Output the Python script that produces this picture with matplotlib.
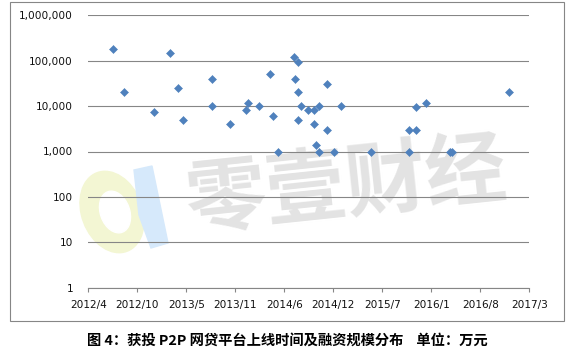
import matplotlib
matplotlib.use("Agg")
import matplotlib.pyplot as plt
import matplotlib.dates as mdates
import matplotlib.patches as mpatches
from matplotlib.ticker import FuncFormatter
import pandas as pd

# launch date of each platform and its financing (10k CNY)
launch_dates = [
    "2012-07-12", "2012-08-26", "2012-12-26", "2013-02-28", "2013-04-01",
    "2013-04-23", "2013-08-19", "2013-08-19", "2013-10-31", "2014-01-06",
    "2014-01-14", "2014-02-28", "2014-04-11", "2014-04-26", "2014-05-17",
    "2014-07-21", "2014-08-03", "2014-07-25", "2014-08-06", "2014-08-06",
    "2014-08-19", "2014-09-16", "2014-10-11", "2014-10-31", "2014-10-11",
    "2014-10-19", "2014-10-31", "2014-12-03", "2014-12-03", "2014-12-31",
    "2015-01-28", "2015-05-31", "2015-11-02", "2015-11-02", "2015-12-01",
    "2015-12-01", "2016-01-11", "2016-04-18", "2016-04-26", "2016-12-15",
]
funding = [
    180000, 20000, 7500, 150000, 25000,
    5000, 40000, 10000, 4000, 8000,
    12000, 10000, 50000, 6000, 1000,
    120000, 95000, 40000, 20000, 5000,
    10000, 8000, 8000, 10000, 4000,
    1400, 1000, 30000, 3000, 1000,
    10000, 1000, 1000, 3000, 3000,
    9500, 12000, 1000, 1000, 20000,
]

x_labels = ["2012/4", "2012/10", "2013/5", "2013/11", "2014/6",
            "2014/12", "2015/7", "2016/1", "2016/8", "2017/3"]
y_ticks = [1, 10, 100, 1000, 10000, 100000, 1000000]

caption = "图 4：获投 P2P 网贷平台上线时间及融资规模分布    单位：万元"
watermark = "零壹财经"

W, H = 570, 356
cjk = ["Noto Sans CJK SC", "DejaVu Sans"]


def px(x, y):
    return x / W, 1 - y / H


fig = plt.figure(figsize=(W / 100, H / 100), dpi=100)
ax = fig.add_axes([88.3 / W, 1 - 287.7 / H, 441 / W, 272.4 / H])
ax.patch.set_alpha(0)

# watermark and logo behind the plot
fig.text(*px(346, 188), watermark, fontsize=58, fontweight="bold", family=cjk,
         color="#e3e3e3", ha="center", va="center", rotation=6, zorder=-2)
fig.patches.append(mpatches.Ellipse(px(112, 212), 62 / W, 82 / H, angle=8,
                                    color="#f3f6d3", transform=fig.transFigure, zorder=-3))
fig.patches.append(mpatches.Ellipse(px(115, 212), 30 / W, 42 / H, angle=8,
                                    color="white", transform=fig.transFigure, zorder=-3))
fig.patches.append(mpatches.Polygon(
    [px(134, 170), px(152, 166), px(168, 243), px(151, 248), px(139, 215)],
    closed=True, color="#d6e9fb", transform=fig.transFigure, zorder=-3))

x = mdates.date2num(pd.to_datetime(launch_dates))
ax.plot(x, funding, linestyle="none", marker="D", ms=4.3,
        color="#4f81bd", mec="#4f81bd", mew=0.4, zorder=3)

ax.set_yscale("log")
ax.set_ylim(1, 1000000)
ax.set_yticks(y_ticks)
ax.yaxis.set_minor_locator(plt.NullLocator())
ax.yaxis.set_major_formatter(FuncFormatter(lambda v, p: f"{v:,.0f}"))

tick_dates = pd.date_range("2012-04-01", periods=len(x_labels), freq="200D")
ax.set_xlim(mdates.date2num(tick_dates[0]), mdates.date2num(tick_dates[-1]))
ax.set_xticks(mdates.date2num(tick_dates))
ax.set_xticklabels(x_labels)

ax.grid(axis="y", color="#868686", lw=0.8)
ax.set_axisbelow(True)
for side in ["left", "right", "top"]:
    ax.spines[side].set_visible(False)
ax.spines["bottom"].set_color("#868686")
ax.spines["bottom"].set_linewidth(0.8)
ax.tick_params(axis="y", length=0, pad=11, labelsize=7.6, labelcolor="#111111")
ax.tick_params(axis="x", length=3, width=0.8, color="#868686", direction="out",
               pad=6, labelsize=7.6, labelcolor="#111111")

# chart frame
fig.patches.append(mpatches.Rectangle(px(10, 321), 554 / W, 319 / H, fill=False,
                                      edgecolor="#868686", lw=0.8,
                                      transform=fig.transFigure))

fig.text(*px(287, 341), caption, fontsize=10.3, fontweight="bold", family=cjk,
         ha="center", va="center", color="black")

fig.savefig("out.png", dpi=100)
